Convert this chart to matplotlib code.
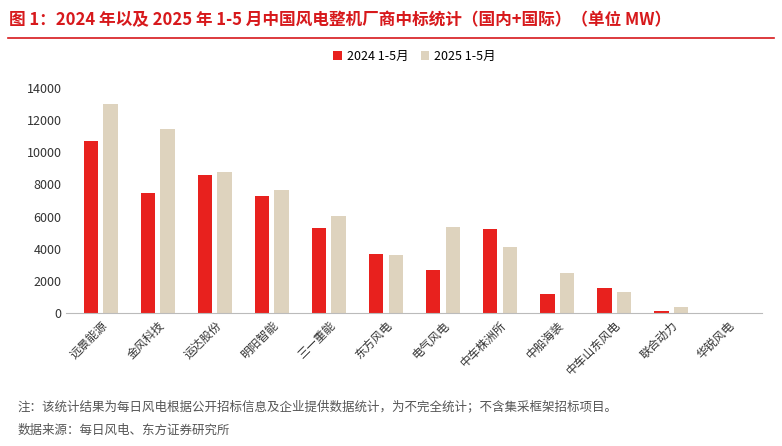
import matplotlib
matplotlib.use("Agg")
import matplotlib.pyplot as plt
import numpy as np

plt.rcParams['font.family'] = ['Noto Sans CJK SC', 'DejaVu Sans']

categories = ["远景能源","金风科技","运达股份","明阳智能","三一重能","东方风电","电气风电","中车株洲所","中船海装","中车山东风电","联合动力","华锐风电"]
v2024 = [10700, 7450, 8600, 7250, 5300, 3650, 2700, 5250, 1200, 1550, 100, 0]
v2025 = [13000, 11450, 8800, 7650, 6050, 3600, 5350, 4100, 2500, 1300, 380, 0]
yticks = [0, 2000, 4000, 6000, 8000, 10000, 12000, 14000]

fig = plt.figure(figsize=(7.82, 4.46), dpi=100)
ax = fig.add_axes([0.085, 0.298, 0.89, 0.505])
x = np.arange(len(categories))
w = 0.25
ax.bar(x - 0.17, v2024, w, color='#E8211E', label='2024 1-5月')
ax.bar(x + 0.17, v2025, w, color='#DED3BE', label='2025 1-5月')
ax.set_xlim(-0.6, len(categories) - 0.4)
ax.set_ylim(0, 14000)
ax.set_yticks(yticks)
ax.tick_params(axis='y', length=0, labelsize=9, colors='#333333')
ax.set_xticks(x)
ax.set_xticklabels(categories, rotation=45, ha='right', rotation_mode='anchor', fontsize=8.5, color='#333333')
ax.tick_params(axis='x', length=0, pad=4)
for s in ['top', 'right', 'left']:
    ax.spines[s].set_visible(False)
ax.spines['bottom'].set_color('#BBBBBB')
ax.legend(loc='lower center', bbox_to_anchor=(0.5, 1.06), ncol=2, frameon=False, fontsize=9,
          handlelength=0.7, handleheight=0.7, columnspacing=1.0, handletextpad=0.4)

fig.text(0.012, 0.955, "图 1：2024 年以及 2025 年 1-5 月中国风电整机厂商中标统计（国内+国际）（单位 MW）",
         color='#D7191C', fontsize=12, fontweight='bold', va='center')
fig.add_artist(plt.Line2D([0.01, 0.99], [0.915, 0.915], color='#D7191C', lw=1.2))
fig.text(0.022, 0.088, "注：该统计结果为每日风电根据公开招标信息及企业提供数据统计，为不完全统计；不含集采框架招标项目。",
         fontsize=9, color='#555555', va='center')
fig.text(0.022, 0.035, "数据来源：每日风电、东方证券研究所", fontsize=9, color='#555555', va='center')
fig.savefig("out.png", dpi=100)
